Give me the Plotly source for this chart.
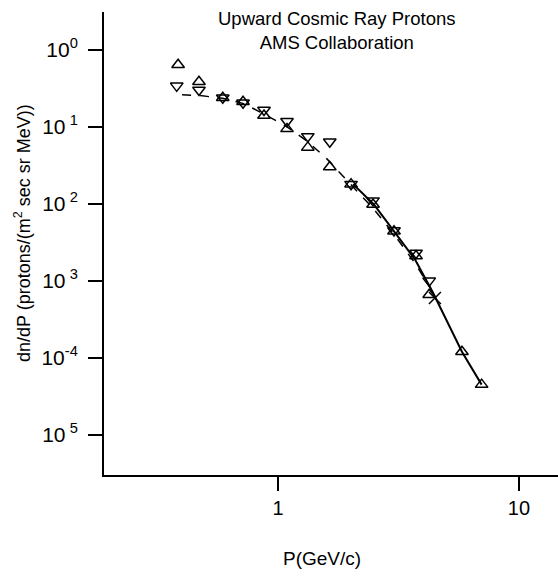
import plotly.graph_objects as go

# Data (P in GeV/c, dn/dP)
up_p = [0.385, 0.47, 0.59, 0.716, 0.875, 1.09, 1.33, 1.64, 2.01, 2.48, 3.03, 3.74, 4.24, 5.8, 7.0]
up_flux = [0.64, 0.384, 0.238, 0.211, 0.14, 0.094, 0.054, 0.030, 0.018, 0.0098, 0.0044, 0.0021, 0.00066, 0.00012, 4.5e-5]

down_p = [0.38, 0.47, 0.59, 0.716, 0.875, 1.09, 1.33, 1.64, 2.01, 2.48, 3.03, 3.74, 4.24]
down_flux = [0.34, 0.30, 0.238, 0.205, 0.165, 0.118, 0.075, 0.064, 0.018, 0.011, 0.0045, 0.0023, 0.001]

cross_p = [4.48]
cross_flux = [0.0006]

dash_p = [0.40, 0.47, 0.59, 0.72, 0.88, 1.09, 1.33, 1.6, 2.0, 2.5, 3.0, 3.7, 4.3]
dash_flux = [0.26, 0.255, 0.235, 0.20, 0.145, 0.10, 0.064, 0.038, 0.018, 0.0085, 0.0042, 0.0017, 0.0008]

solid_p = [2.05, 2.5, 3.0, 3.7, 4.4, 5.8, 7.0]
solid_flux = [0.018, 0.0098, 0.0046, 0.0019, 0.0007, 0.00012, 4.5e-5]

ytick_vals = [1, 1e-1, 1e-2, 1e-3, 1e-4, 1e-5]
ytick_text = ["10<sup>0</sup>", "10<sup> 1</sup>", "10<sup> 2</sup>", "10<sup> 3</sup>",
              "10<sup>-4</sup>", "10<sup> 5</sup>"]
xtick_vals = [1, 10]
xtick_text = ["1", "10"]

fig = go.Figure()
fig.add_trace(go.Scatter(x=dash_p, y=dash_flux, mode="lines",
                         line=dict(color="black", width=1.5, dash="dash"), showlegend=False))
fig.add_trace(go.Scatter(x=solid_p, y=solid_flux, mode="lines",
                         line=dict(color="black", width=2), showlegend=False))
fig.add_trace(go.Scatter(x=up_p, y=up_flux, mode="markers",
                         marker=dict(symbol="triangle-up-open", size=11, color="black",
                                     line=dict(width=1.5, color="black")), showlegend=False))
fig.add_trace(go.Scatter(x=down_p, y=down_flux, mode="markers",
                         marker=dict(symbol="triangle-down-open", size=11, color="black",
                                     line=dict(width=1.5, color="black")), showlegend=False))
fig.add_trace(go.Scatter(x=cross_p, y=cross_flux, mode="markers",
                         marker=dict(symbol="x-thin-open", size=12, color="black",
                                     line=dict(width=1.5, color="black")), showlegend=False))

font = "Liberation Sans, Arial, sans-serif"
fig.update_layout(
    width=558, height=578,
    margin=dict(l=104, r=0, t=12, b=103),
    paper_bgcolor="white", plot_bgcolor="white",
    font=dict(family=font, color="black"),
    xaxis=dict(type="log", range=[-0.722, 1.162], showgrid=False, zeroline=False,
               showline=True, linecolor="black", linewidth=2,
               ticks="outside", ticklen=14, tickwidth=1.5, tickcolor="black",
               tickvals=xtick_vals, ticktext=xtick_text, tickfont=dict(size=20),
               ticklabelstandoff=0),
    yaxis=dict(type="log", range=[-5.52, 0.49], showgrid=False, zeroline=False,
               showline=True, linecolor="black", linewidth=2,
               ticks="outside", ticklen=14, tickwidth=1.5, tickcolor="black",
               tickvals=ytick_vals, ticktext=ytick_text, tickfont=dict(size=21),
               ticklabelstandoff=6),
    annotations=[
        dict(text="Upward Cosmic Ray Protons<br>AMS Collaboration", xref="paper", yref="paper",
             x=0.513, y=(475 - 30) / 463, xanchor="center", yanchor="middle",
             showarrow=False, font=dict(size=18.5)),
        dict(text="dn/dP (protons/(m<sup>2</sup> sec sr MeV))", xref="paper", yref="paper",
             x=(22 - 104) / 454, y=(475 - 233) / 463, xanchor="center", yanchor="middle",
             textangle=-90, showarrow=False, font=dict(size=18)),
        dict(text="P(GeV/c)", xref="paper", yref="paper",
             x=(322 - 104) / 454, y=(475 - 558) / 463, xanchor="center", yanchor="middle",
             showarrow=False, font=dict(size=19)),
    ],
)

fig.write_html("out.html")
